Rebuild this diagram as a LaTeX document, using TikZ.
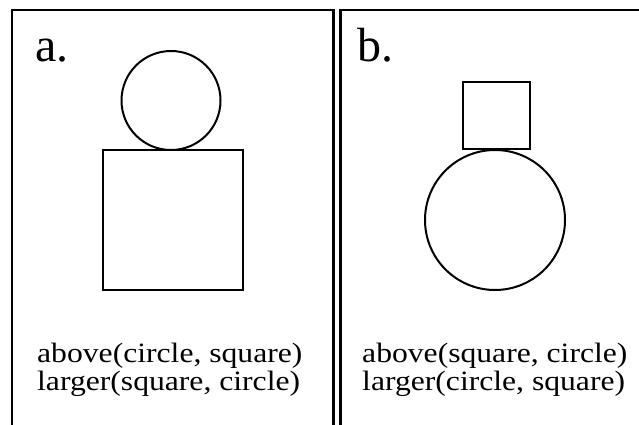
\documentclass[tikz,border=0pt]{standalone}
\usepackage{fontspec}
\setmainfont{Liberation Serif}
\newfontfamily\widefont[FakeStretch=1.13]{Liberation Serif}
\begin{document}
\begin{tikzpicture}[x=1pt,y=-1pt,
  frame/.style={line width=2.4pt},
  shp/.style={draw,line width=2pt,inner sep=0pt,outer sep=0pt},
  circ/.style={shp,circle},
  sq/.style={shp,rectangle},
  lbl/.style={anchor=base west,inner sep=0pt,font=\fontsize{48}{48}\selectfont},
  txt/.style={anchor=base west,inner sep=0pt,font=\widefont\fontsize{28}{28}\selectfont}]
\useasboundingbox (0,0) rectangle (639,425);
\clip (0,0) rectangle (639,425);
% panel frames
\coordinate (aBL) at (12,430);
\coordinate (aTL) at (12,10);
\coordinate (aTR) at (333.5,10);
\coordinate (aBR) at (333.5,430);
\coordinate (bBL) at (340.5,430);
\coordinate (bTL) at (340.5,10);
\coordinate (bTR) at (645,10);
\draw[frame] (aBL) -- (aTL) -- (aTR) -- (aBR);
\draw[frame] (bBL) -- (bTL) -- (bTR);
% panel a
\node[lbl] (la) at (35,62) {a.};
\node[circ,minimum size=99pt] (ca) at (171,100.5) {};
\node[sq,minimum size=140pt] (sa) at (173,220) {};
\node[txt] (ta1) at (37,362) {above(circle, square)};
\node[txt] (ta2) at (37,390) {larger(square, circle)};
% panel b
\node[lbl] (lb) at (357,62) {b.};
\node[sq,minimum size=67pt] (sb) at (496.5,115.5) {};
\node[circ,minimum size=140pt] (cb) at (495,220) {};
\node[txt] (tb1) at (362,362) {above(square, circle)};
\node[txt] (tb2) at (362,390) {larger(circle, square)};
\end{tikzpicture}
\end{document}
